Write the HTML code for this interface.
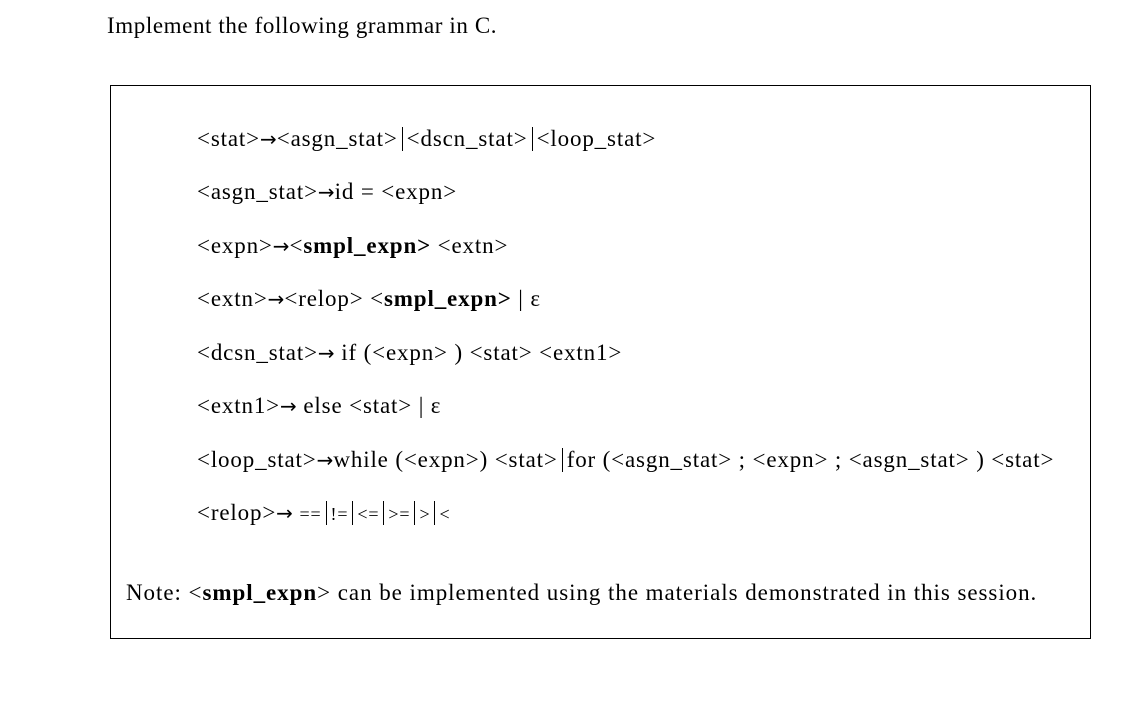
<!DOCTYPE html>
<html><head><meta charset="utf-8"><style>
body{margin:0;width:1145px;height:710px;background:#fff;position:relative;overflow:hidden;font-family:"Liberation Serif",serif;color:#000}
.t{position:absolute;white-space:nowrap;font-size:23px;line-height:1;letter-spacing:0.85px}
.box{position:absolute;left:110px;top:85px;width:979px;height:552px;border:1.3px solid #000}
.bar{display:inline-block;width:1px;height:24px;background:#000;vertical-align:-5px;margin:0 4px}
.sm{font-size:18px}
.ar{font-family:"DejaVu Sans",sans-serif;font-size:20px;letter-spacing:0}
</style></head><body>
<div class="t" style="left:107px;top:14px;letter-spacing:0.6px">Implement the following grammar in C.</div>
<div class="box"></div>
<div class="t" style="left:197px;top:127px">&lt;stat&gt;<span class="ar">→</span>&lt;asgn_stat&gt;<span class="bar"></span>&lt;dscn_stat&gt;<span class="bar"></span>&lt;loop_stat&gt;</div>
<div class="t" style="left:197px;top:180px">&lt;asgn_stat&gt;<span class="ar">→</span>id = &lt;expn&gt;</div>
<div class="t" style="left:197px;top:234px">&lt;expn&gt;<span class="ar">→</span>&lt;<b>smpl_expn&gt;</b> &lt;extn&gt;</div>
<div class="t" style="left:197px;top:287px">&lt;extn&gt;<span class="ar">→</span>&lt;relop&gt; &lt;<b>smpl_expn&gt;</b> | ε</div>
<div class="t" style="left:197px;top:341px">&lt;dcsn_stat&gt;<span class="ar">→</span> if (&lt;expn&gt; ) &lt;stat&gt; &lt;extn1&gt;</div>
<div class="t" style="left:197px;top:394px">&lt;extn1&gt;<span class="ar">→</span> else &lt;stat&gt; | ε</div>
<div class="t" style="left:197px;top:448px">&lt;loop_stat&gt;<span class="ar">→</span>while (&lt;expn&gt;) &lt;stat&gt;<span class="bar"></span>for (&lt;asgn_stat&gt; ; &lt;expn&gt; ; &lt;asgn_stat&gt; ) &lt;stat&gt;</div>
<div class="t" style="left:197px;top:501px">&lt;relop&gt;<span class="ar">→</span> <span class="sm">==</span><span class="bar"></span><span class="sm">!=</span><span class="bar"></span><span class="sm">&lt;=</span><span class="bar"></span><span class="sm">&gt;=</span><span class="bar"></span><span class="sm">&gt;</span><span class="bar"></span><span class="sm">&lt;</span></div>
<div class="t" style="left:126px;top:581px;letter-spacing:0.95px">Note: &lt;<b>smpl_expn</b>&gt; can be implemented using the materials demonstrated in this session.</div>
</body></html>
